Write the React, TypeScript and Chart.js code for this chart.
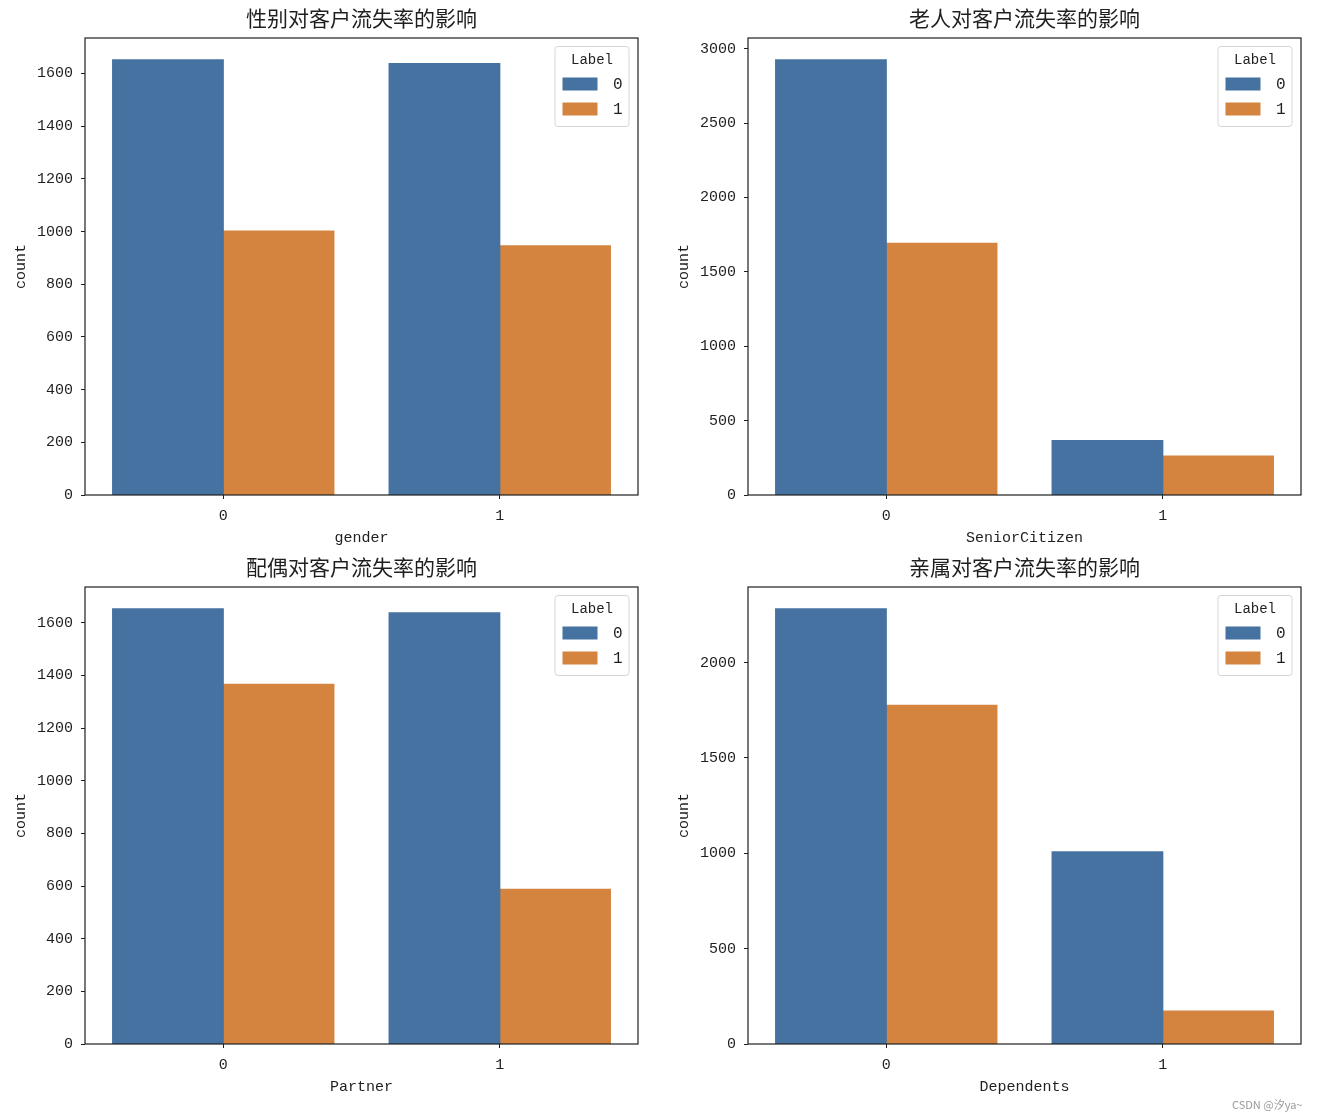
import React, { useEffect, useRef } from 'react';
import { Chart, registerables } from 'chart.js';
Chart.register(...registerables);

// ---- data ----
const categories = ['0', '1'];
const hueTitle = 'Label';
const hueLabels = ['0', '1'];
const genderLabel0 = [1652, 1637];
const genderLabel1 = [1002, 946];
const seniorLabel0 = [2925, 366];
const seniorLabel1 = [1692, 262];
const partnerLabel0 = [1653, 1637];
const partnerLabel1 = [1366, 587];
const dependentsLabel0 = [2282, 1008];
const dependentsLabel1 = [1776, 172];
const titles = ['性别对客户流失率的影响', '老人对客户流失率的影响', '配偶对客户流失率的影响', '亲属对客户流失率的影响'];
const xLabels = ['gender', 'SeniorCitizen', 'Partner', 'Dependents'];
const yLabel = 'count';
const yStepSizes = [200, 500, 200, 500];
const colors = ['#4572a0', '#d4843f'];
const watermark = 'CSDN @汐ya~';

const LATIN = '"Liberation Mono", "DejaVu Sans Mono", monospace';
const CJK = '"Noto Sans CJK SC", "Noto Sans", sans-serif';
const INK = '#1f1f1f';

const panels = [
  { left: 0, top: 0, w: 660, h: 549, areaLeft: 85, areaRight: 638, yTitleCenter: 21, l0: genderLabel0, l1: genderLabel1 },
  { left: 660, top: 0, w: 661, h: 549, areaLeft: 88, areaRight: 641, yTitleCenter: 24, l0: seniorLabel0, l1: seniorLabel1 },
  { left: 0, top: 549, w: 660, h: 549, areaLeft: 85, areaRight: 638, yTitleCenter: 21, l0: partnerLabel0, l1: partnerLabel1 },
  { left: 660, top: 549, w: 661, h: 549, areaLeft: 88, areaRight: 641, yTitleCenter: 24, l0: dependentsLabel0, l1: dependentsLabel1 },
];

const decor = {
  id: 'decor',
  afterDraw(chart: any, _args: any, opts: any) {
    const { ctx, chartArea } = chart;
    const { left, right, top, bottom } = chartArea;
    ctx.save();
    // frame
    ctx.strokeStyle = INK;
    ctx.lineWidth = 1.2;
    ctx.strokeRect(left, top, right - left, bottom - top);
    // title
    ctx.fillStyle = INK;
    ctx.font = `21px ${CJK}`;
    ctx.textAlign = 'center';
    ctx.textBaseline = 'middle';
    ctx.fillText(opts.title, (left + right) / 2, top - 20);
    // legend
    const bw = 74, bh = 80;
    const bx = right - 9 - bw, by = top + 8.5;
    const r = 3;
    ctx.beginPath();
    ctx.moveTo(bx + r, by);
    ctx.lineTo(bx + bw - r, by);
    ctx.quadraticCurveTo(bx + bw, by, bx + bw, by + r);
    ctx.lineTo(bx + bw, by + bh - r);
    ctx.quadraticCurveTo(bx + bw, by + bh, bx + bw - r, by + bh);
    ctx.lineTo(bx + r, by + bh);
    ctx.quadraticCurveTo(bx, by + bh, bx, by + bh - r);
    ctx.lineTo(bx, by + r);
    ctx.quadraticCurveTo(bx, by, bx + r, by);
    ctx.closePath();
    ctx.fillStyle = 'rgba(255,255,255,0.8)';
    ctx.fill();
    ctx.strokeStyle = '#d6d6d6';
    ctx.lineWidth = 1;
    ctx.stroke();
    ctx.fillStyle = INK;
    ctx.font = `14px ${LATIN}`;
    ctx.textAlign = 'center';
    ctx.fillText(hueTitle, bx + bw / 2, top + 22);
    chart.data.datasets.forEach((ds: any, i: number) => {
      const cy = top + 46 + i * 25;
      ctx.fillStyle = ds.backgroundColor;
      ctx.fillRect(bx + 7.5, cy - 6.5, 35, 13);
      ctx.fillStyle = INK;
      ctx.font = `16px ${LATIN}`;
      ctx.textAlign = 'left';
      ctx.fillText(ds.label, bx + 58, cy + 1);
    });
    ctx.restore();
  },
};

function Panel({ idx }: { idx: number }) {
  const ref = useRef<HTMLCanvasElement>(null);
  const cfg = panels[idx];
  useEffect(() => {
    const maxVal = Math.max(...cfg.l0, ...cfg.l1) * 1.05;
    const step = yStepSizes[idx];
    const chart = new Chart(ref.current as HTMLCanvasElement, {
      type: 'bar',
      data: {
        labels: categories,
        datasets: [
          { label: hueLabels[0], data: cfg.l0, backgroundColor: colors[0], borderWidth: 0, inflateAmount: 0.6, categoryPercentage: 0.8, barPercentage: 1.0 },
          { label: hueLabels[1], data: cfg.l1, backgroundColor: colors[1], borderWidth: 0, inflateAmount: 0.6, categoryPercentage: 0.8, barPercentage: 1.0 },
        ],
      },
      options: {
        responsive: false,
        animation: false,
        devicePixelRatio: 1,
        layout: { padding: { left: 0, right: cfg.w - cfg.areaRight, top: 38, bottom: 0 } },
        plugins: {
          legend: { display: false },
          title: { display: false },
          tooltip: { enabled: false },
          decor: { title: titles[idx] },
        } as any,
        scales: {
          x: {
            offset: true,
            grid: { display: true, drawOnChartArea: false, drawTicks: true, tickLength: 4, color: INK, offset: false },
            border: { display: false },
            ticks: { color: INK, font: { family: LATIN, size: 15 }, padding: 8 },
            title: { display: true, text: xLabels[idx], color: INK, font: { family: LATIN, size: 15 }, padding: { top: 0, bottom: 2 } },
            afterFit: (s: any) => { s.height = cfg.h - 495; },
          },
          y: {
            min: 0,
            max: maxVal,
            grid: { display: true, drawOnChartArea: false, drawTicks: true, tickLength: 4, color: INK },
            border: { display: false },
            ticks: {
              stepSize: step,
              includeBounds: false,
              color: INK,
              font: { family: LATIN, size: 15 },
              padding: 8,
              callback: (v: any) => String(v),
            },
            afterBuildTicks: (s: any) => {
              const t: any[] = [];
              for (let v = 0; v <= s.max; v += step) t.push({ value: v });
              s.ticks = t;
            },
            title: { display: true, text: yLabel, color: INK, font: { family: LATIN, size: 15 }, padding: { top: cfg.yTitleCenter - 9, bottom: 0 } },
            afterFit: (s: any) => { s.width = cfg.areaLeft; },
          },
        },
      } as any,
      plugins: [decor],
    });
    return () => chart.destroy();
  }, []);
  return (
    <canvas
      ref={ref}
      width={cfg.w}
      height={cfg.h}
      style={{ position: 'absolute', left: cfg.left, top: cfg.top, width: cfg.w, height: cfg.h }}
    />
  );
}

export default function App() {
  return (
    <div style={{ position: 'absolute', left: 0, top: 0, width: 1321, height: 1120, background: '#fff', overflow: 'hidden' }}>
      {panels.map((_, i) => <Panel key={i} idx={i} />)}
      <div style={{ position: 'absolute', left: 1232, top: 1096, fontSize: 11, color: '#9a9a9a', fontFamily: CJK, whiteSpace: 'nowrap' }}>{watermark}</div>
    </div>
  );
}
